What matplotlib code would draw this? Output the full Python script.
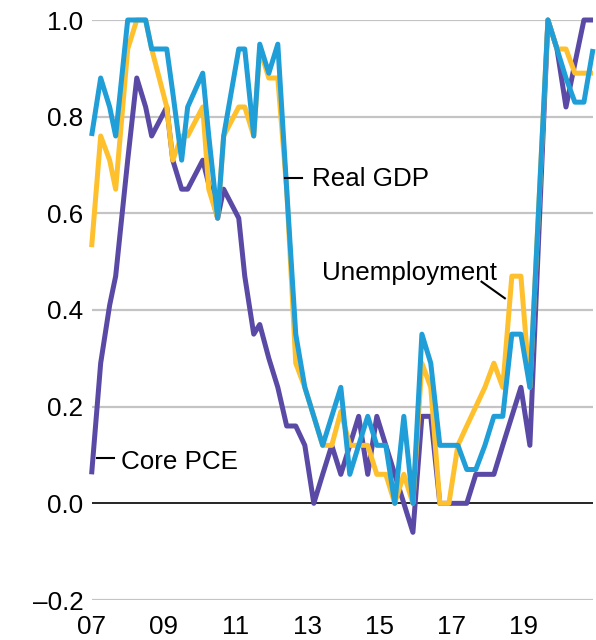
import matplotlib
matplotlib.use("Agg")
import matplotlib.pyplot as plt
import pandas as pd

# ---- data (FOMC SEP release months) ----
sep_dates = ["2007-10", "2008-01", "2008-04", "2008-06", "2008-10", "2009-01", "2009-04",
             "2009-06", "2009-11", "2010-01", "2010-04", "2010-06", "2010-11", "2011-01",
             "2011-04", "2011-06", "2011-11", "2012-01", "2012-04", "2012-06", "2012-09",
             "2012-12", "2013-03", "2013-06", "2013-09", "2013-12", "2014-03", "2014-06",
             "2014-09", "2014-12", "2015-03", "2015-06", "2015-09", "2015-12", "2016-03",
             "2016-06", "2016-09", "2016-12", "2017-03", "2017-06", "2017-09", "2017-12",
             "2018-03", "2018-06", "2018-09", "2018-12", "2019-03", "2019-06", "2019-09",
             "2019-12", "2020-06", "2020-09", "2020-12", "2021-03", "2021-06", "2021-09"]

core_pce = [0.06, 0.29, 0.41, 0.47, 0.71, 0.88, 0.82, 0.76, 0.82, 0.71,
            0.65, 0.65, 0.71, 0.66, 0.59, 0.65, 0.59, 0.47, 0.35, 0.37,
            0.30, 0.24, 0.16, 0.16, 0.12, 0.00, 0.06, 0.12, 0.06, 0.12,
            0.18, 0.06, 0.18, 0.12, 0.06, 0.00, -0.06, 0.18, 0.18, 0.00,
            0.00, 0.00, 0.00, 0.06, 0.06, 0.06, 0.12, 0.18, 0.24, 0.12,
            1.00, 0.94, 0.82, 0.91, 1.00, 1.00]

unemployment = [0.53, 0.76, 0.71, 0.65, 0.94, 1.00, 1.00, 0.94, 0.82, 0.71,
                0.76, 0.76, 0.82, 0.65, 0.59, 0.76, 0.82, 0.82, 0.76, 0.94,
                0.88, 0.88, 0.65, 0.29, 0.24, 0.18, 0.12, 0.12, 0.19, 0.12,
                0.12, 0.12, 0.06, 0.06, 0.00, 0.06, 0.00, 0.29, 0.24, 0.00,
                0.00, 0.12, 0.16, 0.20, 0.24, 0.29, 0.24, 0.47, 0.47, 0.24,
                1.00, 0.94, 0.94, 0.89, 0.89, 0.89]

real_gdp = [0.76, 0.88, 0.82, 0.76, 1.00, 1.00, 1.00, 0.94, 0.94, 0.85,
            0.71, 0.82, 0.89, 0.76, 0.59, 0.76, 0.94, 0.94, 0.76, 0.95,
            0.89, 0.95, 0.65, 0.35, 0.24, 0.18, 0.12, 0.18, 0.24, 0.06,
            0.12, 0.18, 0.12, 0.12, 0.00, 0.18, 0.00, 0.35, 0.29, 0.12,
            0.12, 0.12, 0.07, 0.07, 0.12, 0.18, 0.18, 0.35, 0.35, 0.24,
            1.00, 0.94, 0.88, 0.83, 0.83, 0.94]

y_ticks = [-0.2, 0.0, 0.2, 0.4, 0.6, 0.8, 1.0]
y_tick_labels = ["\u20130.2", "0.0", "0.2", "0.4", "0.6", "0.8", "1.0"]
x_tick_dates = ["2007-10", "2009-10", "2011-10", "2013-10", "2015-10", "2017-10", "2019-10"]
x_tick_labels = ["07", "09", "11", "13", "15", "17", "19"]

series_names = ["Core PCE", "Unemployment", "Real GDP"]

# ---- style ----
plt.rcParams['font.family'] = ['Liberation Sans', 'DejaVu Sans']
FS = 18.7
PURPLE = "#5A4AA6"
YELLOW = "#FEC02D"
BLUE = "#1F9ED8"

fig = plt.figure(figsize=(5.96, 6.40), dpi=100)
ax = fig.add_axes([91.6 / 596, 40 / 640, (593 - 91.6) / 596, 580 / 640])

x = pd.to_datetime(sep_dates)

for yv in y_ticks:
    if yv != 0:
        ax.axhline(yv, color="#C4C4C4", lw=1.6, zorder=0)
ax.axhline(0, color="black", lw=1.2, zorder=1)

lw = 3.6
ax.plot(x, core_pce, color=PURPLE, lw=lw, zorder=2, clip_on=False,
        solid_joinstyle="round", solid_capstyle="butt")
ax.plot(x, unemployment, color=YELLOW, lw=lw, zorder=3, clip_on=False,
        solid_joinstyle="round", solid_capstyle="butt")
ax.plot(x, real_gdp, color=BLUE, lw=lw, zorder=4, clip_on=False,
        solid_joinstyle="round", solid_capstyle="butt")

ax.set_xlim(x[0], x[-1])
ax.set_ylim(-0.2, 1.0)

ax.set_yticks(y_ticks)
ax.set_yticklabels(y_tick_labels, fontsize=FS)
ax.set_xticks(pd.to_datetime(x_tick_dates))
ax.set_xticklabels(x_tick_labels, fontsize=FS)
ax.tick_params(axis="both", length=0)
ax.tick_params(axis="y", pad=6)
ax.tick_params(axis="x", pad=11)
for s in ax.spines.values():
    s.set_visible(False)

# ---- direct labels with short leader lines (axes fraction) ----
tr = ax.transAxes
# Real GDP
ax.plot([0.3862, 0.4199], [0.7276, 0.7276], color="black", lw=1.5, transform=tr, zorder=5)
ax.text(0.4398, 0.7143, series_names[2], fontsize=FS, transform=tr, va="baseline", ha="left")
# Unemployment
ax.plot([0.7777, 0.8242], [0.5488, 0.5202], color="black", lw=1.5, transform=tr, zorder=5)
ax.text(0.4597, 0.5517, series_names[1], fontsize=FS, transform=tr, va="baseline", ha="left")
# Core PCE
ax.plot([0.0101, 0.0451], [0.2443, 0.2443], color="black", lw=1.5, transform=tr, zorder=5)
ax.text(0.0578, 0.2253, series_names[0], fontsize=FS, transform=tr, va="baseline", ha="left")

fig.savefig("out.png", dpi=100)
